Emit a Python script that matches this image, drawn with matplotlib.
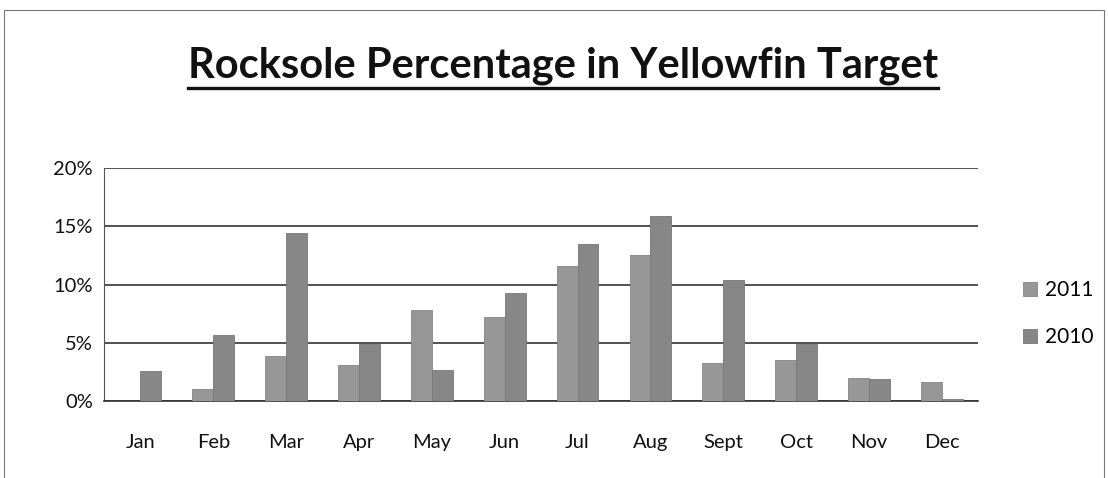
import numpy as np
import matplotlib
matplotlib.use("Agg")
import matplotlib.pyplot as plt
from matplotlib.lines import Line2D
from matplotlib.patches import Rectangle

# Data (percent)
months = ["Jan", "Feb", "Mar", "Apr", "May", "Jun", "Jul", "Aug", "Sept", "Oct", "Nov", "Dec"]
pct_2011 = [0.0, 1.0, 3.9, 3.1, 7.8, 7.2, 11.6, 12.5, 3.3, 3.5, 2.0, 1.6]
pct_2010 = [2.6, 5.7, 14.4, 4.9, 2.7, 9.3, 13.5, 15.9, 10.4, 4.9, 1.9, 0.2]
yticks = [0, 5, 10, 15, 20]

plt.rcParams["font.family"] = ["Lato", "DejaVu Sans"]

fig = plt.figure(figsize=(11.08, 4.78), dpi=100)
ax = fig.add_axes([0.0939, 0.161, 0.789, 0.4875])

x = np.arange(len(months))
w = 0.286
ax.bar(x - w / 2, pct_2011, width=w, color="#979797", edgecolor="#858585",
       linewidth=0.6, label="2011", zorder=3)
ax.bar(x + w / 2, pct_2010, width=w, color="#878787", edgecolor="#777777",
       linewidth=0.6, label="2010", zorder=3)

ax.set_xlim(-0.5, len(months) - 0.5)
ax.set_ylim(0, 20)
ax.set_yticks(yticks)
ax.set_yticklabels([f"{v}%" for v in yticks], fontsize=14.5)
ax.set_xticks(x)
ax.set_xticklabels(months, fontsize=14.5)
ax.tick_params(axis="both", length=0, colors="#111111")
ax.tick_params(axis="x", pad=24)
ax.tick_params(axis="y", pad=8)
ax.yaxis.grid(True, color="#333333", linewidth=1.2, zorder=0)

for s in ["top", "right"]:
    ax.spines[s].set_visible(False)
ax.spines["left"].set_color("#555555")
ax.spines["bottom"].set_color("#333333")
ax.spines["bottom"].set_linewidth(1.2)

leg = ax.legend(loc="center left", bbox_to_anchor=(1.03, 0.375), frameon=False,
                fontsize=15, handlelength=0.65, handleheight=0.65, handletextpad=0.4,
                labelspacing=1.3)

# chart title with underline
title = fig.text(0.508, 0.862, "Rocksole Percentage in Yellowfin Target",
                 ha="center", va="center", fontsize=30, fontweight="bold",
                 color="#111111")
fig.canvas.draw()
bb = title.get_window_extent().transformed(fig.transFigure.inverted())
fig.add_artist(Line2D([bb.x0, bb.x1], [bb.y0 - 0.006, bb.y0 - 0.006],
                      color="#111111", linewidth=2.4))

# outer chart border
fig.add_artist(Rectangle((0.004, -0.01), 0.992, 0.99, transform=fig.transFigure,
                         fill=False, edgecolor="#777777", linewidth=0.8))

fig.savefig("out.png", dpi=100)
